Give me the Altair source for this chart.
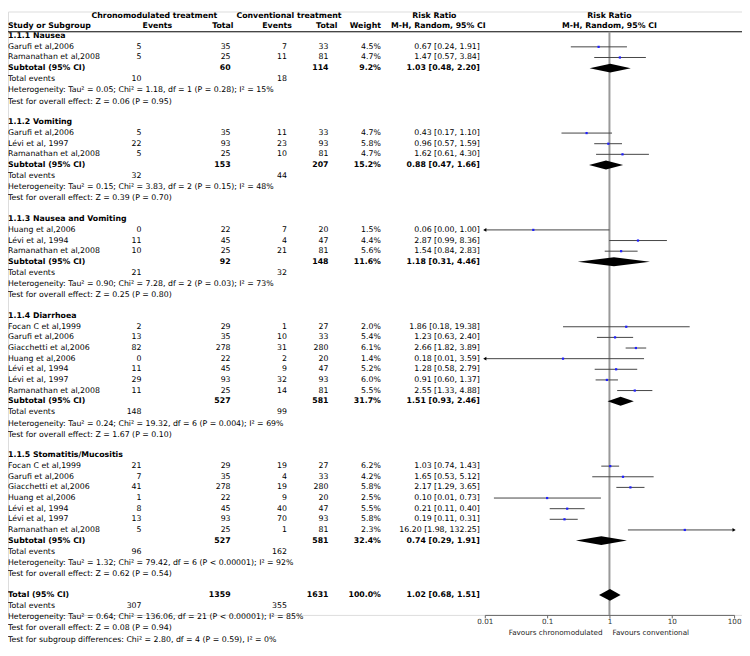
import altair as alt
import pandas as pd

# ---------------- data ----------------
group_titles = ["1.1.1 Nausea", "1.1.2 Vomiting", "1.1.3 Nausea and Vomiting",
                "1.1.4 Diarrhoea", "1.1.5 Stomatitis/Mucositis"]
study_names = [
    ["Garufi et al,2006", "Ramanathan et al,2008"],
    ["Garufi et al,2006", "Lévi et al, 1997", "Ramanathan et al,2008"],
    ["Huang et al,2006", "Lévi et al, 1994", "Ramanathan et al,2008"],
    ["Focan C et al,1999", "Garufi et al,2006", "Giacchetti et al,2006", "Huang et al,2006",
     "Lévi et al, 1994", "Lévi et al, 1997", "Ramanathan et al,2008"],
    ["Focan C et al,1999", "Garufi et al,2006", "Giacchetti et al,2006", "Huang et al,2006",
     "Lévi et al, 1994", "Lévi et al, 1997", "Ramanathan et al,2008"],
]
chrono_events = [[5, 5], [5, 22, 5], [0, 11, 10], [2, 13, 82, 0, 11, 29, 11], [21, 7, 41, 1, 8, 13, 5]]
chrono_total = [[35, 25], [35, 93, 25], [22, 45, 25], [29, 35, 278, 22, 45, 93, 25], [29, 35, 278, 22, 45, 93, 25]]
conv_events = [[7, 11], [11, 23, 10], [7, 4, 21], [1, 10, 31, 2, 9, 32, 14], [19, 4, 19, 9, 40, 70, 1]]
conv_total = [[33, 81], [33, 93, 81], [20, 47, 81], [27, 33, 280, 20, 47, 93, 81], [27, 33, 280, 20, 47, 93, 81]]
weights = [[4.5, 4.7], [4.7, 5.8, 4.7], [1.5, 4.4, 5.6], [2.0, 5.4, 6.1, 1.4, 5.2, 6.0, 5.5],
           [6.2, 4.2, 5.8, 2.5, 5.5, 5.8, 2.3]]
rr = [[0.67, 1.47], [0.43, 0.96, 1.62], [0.06, 2.87, 1.54], [1.86, 1.23, 2.66, 0.18, 1.28, 0.91, 2.55],
      [1.03, 1.65, 2.17, 0.10, 0.21, 0.19, 16.20]]
rr_lo = [[0.24, 0.57], [0.17, 0.57, 0.61], [0.00, 0.99, 0.84], [0.18, 0.63, 1.82, 0.01, 0.58, 0.60, 1.33],
         [0.74, 0.53, 1.29, 0.01, 0.11, 0.11, 1.98]]
rr_hi = [[1.91, 3.84], [1.10, 1.59, 4.30], [1.00, 8.36, 2.83], [19.38, 2.40, 3.89, 3.59, 2.79, 1.37, 4.88],
         [1.43, 5.12, 3.65, 0.73, 0.40, 0.31, 132.25]]
# lower limits as drawn in the picture (unrounded where the printed 0.01 hides it)
rr_lo_drawn = [[0.24, 0.57], [0.17, 0.57, 0.61], [0.001, 0.99, 0.84],
               [0.18, 0.63, 1.82, 0.009, 0.58, 0.60, 1.33],
               [0.74, 0.53, 1.29, 0.014, 0.11, 0.11, 1.98]]

sub_events_c = [10, 32, 21, 148, 96]
sub_total_c = [60, 153, 92, 527, 527]
sub_events_v = [18, 44, 32, 99, 162]
sub_total_v = [114, 207, 148, 581, 581]
sub_weight = [9.2, 15.2, 11.6, 31.7, 32.4]
sub_rr = [1.03, 0.88, 1.18, 1.51, 0.74]
sub_lo = [0.48, 0.47, 0.31, 0.93, 0.29]
sub_hi = [2.20, 1.66, 4.46, 2.46, 1.91]
sub_het = [
    "Heterogeneity: Tau² = 0.05; Chi² = 1.18, df = 1 (P = 0.28); I² = 15%",
    "Heterogeneity: Tau² = 0.15; Chi² = 3.83, df = 2 (P = 0.15); I² = 48%",
    "Heterogeneity: Tau² = 0.90; Chi² = 7.28, df = 2 (P = 0.03); I² = 73%",
    "Heterogeneity: Tau² = 0.24; Chi² = 19.32, df = 6 (P = 0.004); I² = 69%",
    "Heterogeneity: Tau² = 1.32; Chi² = 79.42, df = 6 (P < 0.00001); I² = 92%",
]
sub_test = [
    "Test for overall effect: Z = 0.06 (P = 0.95)",
    "Test for overall effect: Z = 0.39 (P = 0.70)",
    "Test for overall effect: Z = 0.25 (P = 0.80)",
    "Test for overall effect: Z = 1.67 (P = 0.10)",
    "Test for overall effect: Z = 0.62 (P = 0.54)",
]
total_c, total_v = 1359, 1631
total_events_c, total_events_v = 307, 355
total_weight = 100.0
total_rr, total_lo, total_hi = 1.02, 0.68, 1.51
total_footer = [
    "Heterogeneity: Tau² = 0.64; Chi² = 136.06, df = 21 (P < 0.00001); I² = 85%",
    "Test for overall effect: Z = 0.08 (P = 0.94)",
    "Test for subgroup differences: Chi² = 2.80, df = 4 (P = 0.59), I² = 0%",
]
axis_ticks = [0.01, 0.1, 1, 10, 100]

# ---------------- layout / style ----------------
FONT = "DejaVu Sans"
FS = 7.9
W, H = 742, 610
XMIN, XMAX = 0.01, 100
Y0, R, F, G = 25, 10.75, 11.3, 21.0
DIA_H, DIA_H_TOTAL = 4.5, 6.0

text_rows, study_rows, dia_rows = [], [], []


def add(y, col, text, bold=False):
    text_rows.append({"y": y, "col": col, "text": str(text), "bold": bold})


def ci_text(e, l, h):
    return f"{e:.2f} [{l:.2f}, {h:.2f}]"


def add_diamond(key, y, est, lo, hi, h):
    dia_rows.extend([
        {"grp": key, "x": lo, "ytop": y, "ybot": y},
        {"grp": key, "x": est, "ytop": y - h, "ybot": y + h},
        {"grp": key, "x": hi, "ytop": y, "ybot": y},
    ])


y = Y0
for g, title in enumerate(group_titles):
    add(y, "name", title, True)
    for i, name in enumerate(study_names[g]):
        y += R
        add(y, "name", name)
        add(y, "ce", chrono_events[g][i])
        add(y, "ct", chrono_total[g][i])
        add(y, "ve", conv_events[g][i])
        add(y, "vt", conv_total[g][i])
        add(y, "w", f"{weights[g][i]:.1f}%")
        add(y, "rr", ci_text(rr[g][i], rr_lo[g][i], rr_hi[g][i]))
        lo, hi = rr_lo_drawn[g][i], rr_hi[g][i]
        study_rows.append({"y": y, "est": rr[g][i], "lo": max(lo, XMIN), "hi": min(hi, XMAX),
                           "la": lo < XMIN, "ra": hi > XMAX})
    y += R
    add(y, "name", "Subtotal (95% CI)", True)
    add(y, "ct", sub_total_c[g], True)
    add(y, "vt", sub_total_v[g], True)
    add(y, "w", f"{sub_weight[g]:.1f}%", True)
    add(y, "rr", ci_text(sub_rr[g], sub_lo[g], sub_hi[g]), True)
    add_diamond(f"g{g}", y, sub_rr[g], sub_lo[g], sub_hi[g], DIA_H)
    y += F
    add(y, "name", "Total events")
    add(y, "ce", sub_events_c[g])
    add(y, "ve", sub_events_v[g])
    y += F
    add(y, "name", sub_het[g])
    y += F
    add(y, "name", sub_test[g])
    y += G

add(y, "name", "Total (95% CI)", True)
add(y, "ct", total_c, True)
add(y, "vt", total_v, True)
add(y, "w", f"{total_weight:.1f}%", True)
add(y, "rr", ci_text(total_rr, total_lo, total_hi), True)
add_diamond("total", y, total_rr, total_lo, total_hi, DIA_H_TOTAL)
y += F
add(y, "name", "Total events")
add(y, "ce", total_events_c)
add(y, "ve", total_events_v)
for line in total_footer:
    y += F
    add(y, "name", line)

tdf = pd.DataFrame(text_rows)
sdf = pd.DataFrame(study_rows)
ddf = pd.DataFrame(dia_rows)

xscale = alt.Scale(type="log", domain=[XMIN, XMAX], range=[482, 734], nice=False)
yscale = alt.Scale(domain=[0, H], range=[0, H], nice=False, zero=False)
xaxis = alt.Axis(values=axis_ticks, format="~g", title=None, grid=False, tickSize=3,
                 labelPadding=0, labelFont=FONT, labelFontSize=7.3, labelColor="#333",
                 domainColor="#666", tickColor="#666", labelFlush=False, labelOverlap=False)
Y = alt.Y("y:Q", scale=yscale, axis=None)

columns = {  # key: (x position, align)
    "name": (0, "left"), "ce": (135, "right"), "ct": (225, "right"), "ve": (282, "right"),
    "vt": (324, "right"), "w": (377, "right"), "rr": (477, "right"),
}

layers = []

# header line and the line of no effect
layers.append(alt.Chart(pd.DataFrame({"v": [1]})).mark_rule(color="black", strokeWidth=1).encode(
    x=alt.value(0), x2=alt.value(W), y=alt.value(20.5)))
layers.append(alt.Chart(pd.DataFrame({"v": [1]})).mark_rule(color="#999", strokeWidth=2).encode(
    x=alt.X("v:Q", scale=xscale, axis=xaxis), y=alt.value(20.5), y2=alt.value(H)))

# confidence intervals
layers.append(alt.Chart(sdf).mark_rule(color="#444", strokeWidth=1).encode(
    x=alt.X("lo:Q", scale=xscale, axis=xaxis), x2="hi:Q", y=Y))
# point estimates
layers.append(alt.Chart(sdf).mark_square(color="#1f1fff", size=5, opacity=1).encode(
    x=alt.X("est:Q", scale=xscale, axis=xaxis), y=Y))
# arrows for clipped intervals
left = sdf[sdf["la"]]
right = sdf[sdf["ra"]]
layers.append(alt.Chart(left).mark_point(shape="triangle-left", filled=True, color="black",
                                         size=14, opacity=1).encode(
    x=alt.X("lo:Q", scale=xscale, axis=xaxis), y=Y))
layers.append(alt.Chart(right).mark_point(shape="triangle-right", filled=True, color="black",
                                          size=14, opacity=1).encode(
    x=alt.X("hi:Q", scale=xscale, axis=xaxis), y=Y))
# diamonds
layers.append(alt.Chart(ddf).mark_area(color="black", orient="vertical", opacity=1).encode(
    x=alt.X("x:Q", scale=xscale, axis=xaxis),
    y=alt.Y("ytop:Q", scale=yscale, axis=None), y2="ybot:Q", detail="grp:N"))

# table text
for key, (xp, al) in columns.items():
    for bold in (False, True):
        sub = tdf[(tdf["col"] == key) & (tdf["bold"] == bold)]
        if len(sub) == 0:
            continue
        layers.append(alt.Chart(sub).mark_text(
            align=al, baseline="middle", font=FONT, fontSize=FS,
            fontWeight="bold" if bold else "normal", color="black").encode(
            x=alt.value(xp), y=Y, text="text:N"))

# headers
headers = pd.DataFrame([
    {"text": "Chronomodulated treatment", "x": 148, "align": "center", "row": 5},
    {"text": "Conventional treatment", "x": 284, "align": "center", "row": 5},
    {"text": "Risk Ratio", "x": 431, "align": "center", "row": 5},
    {"text": "Risk Ratio", "x": 608, "align": "center", "row": 5},
    {"text": "Study or Subgroup", "x": 0, "align": "left", "row": 15},
    {"text": "Events", "x": 151, "align": "center", "row": 15},
    {"text": "Total", "x": 228, "align": "right", "row": 15},
    {"text": "Events", "x": 272, "align": "center", "row": 15},
    {"text": "Total", "x": 333, "align": "right", "row": 15},
    {"text": "Weight", "x": 377, "align": "right", "row": 15},
    {"text": "M-H, Random, 95% CI", "x": 435, "align": "center", "row": 15},
    {"text": "M-H, Random, 95% CI", "x": 608, "align": "center", "row": 15},
])
for _, h in headers.iterrows():
    layers.append(alt.Chart(pd.DataFrame({"t": [h["text"]]})).mark_text(
        align=h["align"], baseline="middle", font=FONT, fontSize=FS, fontWeight="bold",
        color="black").encode(x=alt.value(int(h["x"])), y=alt.value(float(h["row"])), text="t:N"))

# favours labels under the axis
fav = pd.DataFrame({"v": [1], "t1": ["Favours chronomodulated"], "t2": ["Favours conventional"]})
layers.append(alt.Chart(fav).mark_text(align="right", baseline="middle", font=FONT, fontSize=7.3,
                                       color="#222", dx=-7).encode(
    x=alt.X("v:Q", scale=xscale, axis=xaxis), y=alt.value(628), text="t1:N"))
layers.append(alt.Chart(fav).mark_text(align="left", baseline="middle", font=FONT, fontSize=7.3,
                                       color="#222", dx=3).encode(
    x=alt.X("v:Q", scale=xscale, axis=xaxis), y=alt.value(628), text="t2:N"))

chart = alt.layer(*layers).properties(
    width=W, height=H,
    autosize=alt.AutoSizeParams(type="none"),
    padding={"left": 0, "top": 0, "right": 0, "bottom": 38},
).configure_view(stroke=None).configure(background="white")

chart.save("out.html", embed_options={"renderer": "svg", "actions": False})
